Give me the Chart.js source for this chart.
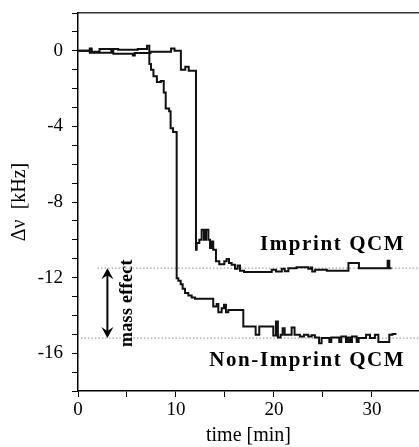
<!DOCTYPE html>
<html>
<head>
<meta charset="utf-8">
<script src="https://cdn.jsdelivr.net/npm/chart.js@4/dist/chart.umd.min.js"></script>
<style>
  body{margin:0;background:#fff;}
  canvas{display:block;}
</style>
</head>
<body>
<canvas id="chart" width="419" height="447"></canvas>
<script>
// Imprint QCM trace (time in min, shift in kHz)
const imprintTime = [0,1.2,3.4,3.6,5.6,5.8,7.4,9.5,9.85,10.5,10.95,11.3,12.04,12.11,12.38,12.62,12.86,13.06,13.3,13.47,13.64,13.8,14.08,14.42,14.93,15.17,15.41,15.68,16.02,16.29,16.53,16.94,19.77,20.2,20.8,21.1,21.47,22.3,23.5,23.75,23.9,24.2,25.4,27.6,28.67,31.6,31.77,32.0];
const imprintShift = [0,-0.1,0,-0.15,-0.25,-0.12,-0.05,0.12,0,-1.0,-0.85,-1.05,-10.53,-10.17,-10.0,-9.47,-10.0,-9.47,-10.0,-10.44,-10.09,-10.53,-11.14,-11.29,-11.14,-11.02,-11.23,-11.32,-11.53,-11.36,-11.64,-11.71,-11.59,-11.68,-11.53,-11.66,-11.5,-11.45,-11.53,-11.47,-11.68,-11.59,-11.64,-11.23,-11.5,-11.11,-11.5,-11.5];

// Non-Imprint QCM trace
const nonImprintTime = [0,1.2,1.4,2.2,4.1,6.1,7.05,7.28,7.45,7.7,8.05,8.45,8.75,8.95,9.3,9.45,9.7,10.07,10.24,10.48,10.68,10.92,11.26,11.6,11.94,13.8,14.15,14.32,14.66,14.9,15.1,15.34,16.87,18.13,18.5,19.93,20.2,20.4,20.68,20.88,21.09,21.8,22.1,22.65,23.06,23.5,23.84,24.18,24.6,24.86,25.65,25.85,26.66,26.87,27.35,27.55,27.76,27.96,28.44,28.64,29.4,29.8,30.3,30.65,31.77,32.1,32.5];
const nonImprintShift = [0,0.12,-0.05,0.1,0.05,0.1,0.27,-0.7,-1.0,-1.35,-1.65,-1.6,-2.2,-3.05,-3.2,-4.1,-4.3,-12.03,-12.17,-12.35,-12.59,-12.82,-12.95,-13.05,-13.12,-13.53,-13.4,-13.83,-13.62,-13.44,-13.83,-13.71,-14.59,-15.03,-14.59,-15.06,-14.32,-15.17,-15.03,-14.68,-15.03,-14.64,-15.02,-15.11,-15.02,-15.11,-15.05,-15.17,-15.47,-15.2,-15.41,-15.17,-15.41,-15.11,-15.41,-15.17,-15.41,-15.11,-15.41,-15.2,-15.02,-15.2,-15.02,-15.41,-15.02,-14.98,-14.98];

// dotted levels marking the mass effect
const refLevels = [-11.5, -15.2];
const refStart = [2.0, 0.3];

const xMin = 0, xMax = 34.8;
const yMin = -18, yMax = 2;

const serif = "'Liberation Serif', 'DejaVu Serif', serif";
Chart.defaults.font.family = serif;
Chart.defaults.color = "#000";

function toPoints(ts, vs){
    return ts.map((t,i)=>({x:t, y:vs[i]}));
}

// each value holds until the next sample
const datasets = [
    {data: toPoints(imprintTime, imprintShift), stepped:true, borderColor:'#111', borderWidth:2, pointRadius:0, fill:false},
    {data: toPoints(nonImprintTime, nonImprintShift), stepped:true, borderColor:'#111', borderWidth:2, pointRadius:0, fill:false}
];
refLevels.forEach((lv,i)=>{
    datasets.push({
        data:[{x:refStart[i], y:lv},{x:xMax, y:lv}],
        borderColor:'#8a8a8a', borderWidth:1, borderDash:[1.5,2], pointRadius:0, fill:false
    });
});

function noPad(s){
    s.paddingTop = 0; s.paddingBottom = 0;
    s.paddingLeft = 0; s.paddingRight = 0;
}

// Arrow and text annotations
const annotations = {
    id:'annotations',
    afterDatasetsDraw(chart){
        const ctx = chart.ctx;
        const x = chart.scales.x, y = chart.scales.y;

        // double arrow
        const ax = x.getPixelForValue(3.0);
        const top = y.getPixelForValue(refLevels[0]);
        const bot = y.getPixelForValue(refLevels[1]);
        ctx.save();
        ctx.strokeStyle = '#000';
        ctx.fillStyle = '#000';
        ctx.lineWidth = 2;
        ctx.beginPath();
        ctx.moveTo(ax, top+6);
        ctx.lineTo(ax, bot-6);
        ctx.stroke();
        ctx.beginPath();
        ctx.moveTo(ax, top); ctx.lineTo(ax+6, top+11); ctx.lineTo(ax, top+7); ctx.lineTo(ax-6, top+11);
        ctx.closePath(); ctx.fill();
        ctx.beginPath();
        ctx.moveTo(ax, bot); ctx.lineTo(ax+6, bot-11); ctx.lineTo(ax, bot-7); ctx.lineTo(ax-6, bot-11);
        ctx.closePath(); ctx.fill();

        // "mass effect" vertical
        ctx.save();
        ctx.translate(x.getPixelForValue(5.0), y.getPixelForValue(-13.35));
        ctx.rotate(-Math.PI/2);
        ctx.font = "bold 18px " + serif;
        ctx.letterSpacing = "0.3px";
        ctx.textAlign = 'center';
        ctx.textBaseline = 'middle';
        ctx.fillText('mass effect', 0, 0);
        ctx.restore();

        // curve labels
        ctx.font = "bold 21px " + serif;
        ctx.letterSpacing = "1.6px";
        ctx.textAlign = 'right';
        ctx.textBaseline = 'alphabetic';
        ctx.fillText('Imprint QCM', x.getPixelForValue(33.4), y.getPixelForValue(-10.55));
        ctx.fillText('Non-Imprint QCM', x.getPixelForValue(33.4), y.getPixelForValue(-16.67));
        ctx.restore();
    }
};

new Chart(document.getElementById("chart"),{
    type:'line',
    data:{datasets},
    options:{
        responsive:false,
        animation:false,
        layout:{padding:0},
        plugins:{legend:{display:false}, tooltip:{enabled:false}},
        scales:{
            x:{
                type:'linear', min:xMin, max:xMax, position:'bottom',
                afterFit(s){ s.height = 56; noPad(s); },
                border:{display:true, color:'#000', width:1.5},
                grid:{drawOnChartArea:false, drawTicks:true, tickLength:6, color:'#000', lineWidth:1},
                ticks:{stepSize:5, includeBounds:false, autoSkip:false, maxRotation:0, padding:2, font:{size:19},
                    callback:v => v % 10 === 0 ? v : ''},
                title:{display:true, text:'time [min]', font:{size:20, lineHeight:1.1}, padding:{top:0, bottom:0}}
            },
            xTop:{
                type:'linear', axis:'x', min:xMin, max:xMax, position:'top',
                afterFit(s){ s.height = 13; noPad(s); },
                border:{display:true, color:'#333', width:1.5},
                grid:{display:false},
                ticks:{display:false}
            },
            y:{
                type:'linear', min:yMin, max:yMax, position:'left',
                afterFit(s){ s.width = 78; noPad(s); },
                border:{display:true, color:'#000', width:1.5},
                grid:{drawOnChartArea:false, drawTicks:true, tickLength:6, color:'#000', lineWidth:1},
                ticks:{stepSize:1, autoSkip:false, padding:9, font:{size:19},
                    callback:v => v % 4 === 0 ? v : ''},
                title:{display:true, text:'\u0394\u03bd  [kHz]', font:{size:20, lineHeight:1.1}, padding:{top:9, bottom:0}}
            }
        }
    },
    plugins:[annotations]
});
</script>
</body>
</html>
